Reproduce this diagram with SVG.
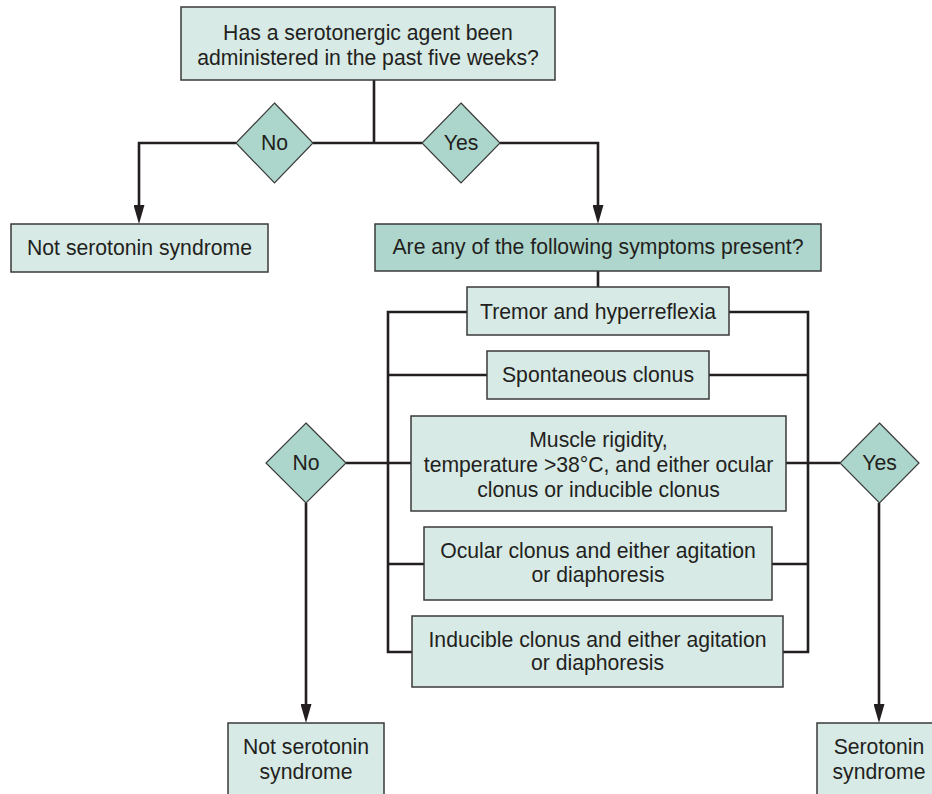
<svg xmlns="http://www.w3.org/2000/svg" width="932" height="794" viewBox="0 0 932 794">
<style>
.box{fill:#d7eae6;stroke:#3a3a3a;stroke-width:1.5}
.dark{fill:#aed6cc;stroke:#3a3a3a;stroke-width:1.5}
.dia{fill:#acd6cb;stroke:#3a3a3a;stroke-width:1.2}
.t{font-family:"Liberation Sans",Arial,sans-serif;font-size:21.2px;fill:#231f20;text-anchor:middle}
.c{fill:none;stroke:#231f20;stroke-width:2.6}
</style>
<defs>
<marker id="arr" markerUnits="userSpaceOnUse" viewBox="0 -5.5 19 11" markerWidth="19" markerHeight="11" refX="0" refY="0" orient="auto">
<path d="M0,-5.5 L19,0 L0,5.5 z" fill="#231f20"/>
</marker>
</defs>
<rect width="932" height="794" fill="#ffffff"/>
<g id="connectors">
<path class="c" d="M374,80 V143"/>
<path class="c" d="M236,143 H139 V205" marker-end="url(#arr)"/>
<path class="c" d="M313,143 H422"/>
<path class="c" d="M500,143 H598 V205" marker-end="url(#arr)"/>
<path class="c" d="M598,271 V287"/>
<path class="c" d="M467,312 H388 V652 H412"/>
<path class="c" d="M729,312 H808 V652 H783"/>
<path class="c" d="M388,375 H487"/>
<path class="c" d="M709,375 H808"/>
<path class="c" d="M346,463 H411"/>
<path class="c" d="M786,463 H840"/>
<path class="c" d="M388,564 H424"/>
<path class="c" d="M772,564 H808"/>
<path class="c" d="M306,503 V704" marker-end="url(#arr)"/>
<path class="c" d="M879,503 V704" marker-end="url(#arr)"/>
</g>
<g id="q1">
<rect class="box" x="181" y="7" width="374" height="73"/>
<text class="t" x="368" y="40">Has a serotonergic agent been</text>
<text class="t" x="368" y="65">administered in the past five weeks?</text>
</g>
<g id="no1">
<polygon class="dia" points="274.5,103 313,143 274.5,183 236,143"/>
<text class="t" x="274.5" y="150">No</text>
</g>
<g id="yes1">
<polygon class="dia" points="461,103 500,143 461,183 422,143"/>
<text class="t" x="461" y="150">Yes</text>
</g>
<g id="not1">
<rect class="box" x="11" y="224" width="257" height="48"/>
<text class="t" x="139.5" y="255">Not serotonin syndrome</text>
</g>
<g id="q2">
<rect class="dark" x="375" y="224" width="446" height="47"/>
<text class="t" x="598" y="254">Are any of the following symptoms present?</text>
</g>
<g id="s1">
<rect class="box" x="467" y="287" width="262" height="48"/>
<text class="t" x="598" y="319">Tremor and hyperreflexia</text>
</g>
<g id="s2">
<rect class="box" x="487" y="351" width="222" height="48"/>
<text class="t" x="598" y="382">Spontaneous clonus</text>
</g>
<g id="s3">
<rect class="box" x="411" y="416" width="375" height="95"/>
<text class="t" x="598.5" y="447">Muscle rigidity,</text>
<text class="t" x="598.5" y="472">temperature &gt;38°C, and either ocular</text>
<text class="t" x="598.5" y="497">clonus or inducible clonus</text>
</g>
<g id="s4">
<rect class="box" x="424" y="527" width="348" height="73"/>
<text class="t" x="598" y="558">Ocular clonus and either agitation</text>
<text class="t" x="598" y="582">or diaphoresis</text>
</g>
<g id="s5">
<rect class="box" x="412" y="616" width="371" height="71"/>
<text class="t" x="597.5" y="647">Inducible clonus and either agitation</text>
<text class="t" x="597.5" y="670">or diaphoresis</text>
</g>
<g id="no2">
<polygon class="dia" points="306,423 346,463 306,503 266,463"/>
<text class="t" x="306" y="470">No</text>
</g>
<g id="yes2">
<polygon class="dia" points="879.5,423 919,463 879.5,503 840,463"/>
<text class="t" x="879.5" y="470">Yes</text>
</g>
<g id="not2">
<rect class="box" x="228" y="723" width="156" height="80"/>
<text class="t" x="306" y="754">Not serotonin</text>
<text class="t" x="306" y="779">syndrome</text>
</g>
<g id="ss">
<rect class="box" x="817" y="723" width="124" height="80"/>
<text class="t" x="879" y="754">Serotonin</text>
<text class="t" x="879" y="779">syndrome</text>
</g>
</svg>
